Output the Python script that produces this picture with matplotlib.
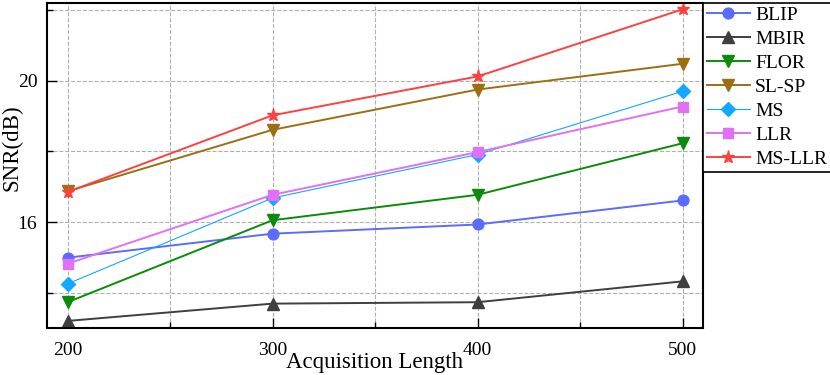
import numpy as np
from matplotlib import pyplot as plt
from matplotlib.ticker import MultipleLocator

plt.rcParams['font.family'] = ['Liberation Serif', 'DejaVu Serif']
plt.rcParams['mathtext.fontset'] = 'stix'

# acquisition lengths
lengths = [200, 300, 400, 500]

# SNR (dB) for each method
blip = [14.99, 15.67, 15.93, 16.61]
mbir = [13.20, 13.69, 13.73, 14.32]
flor = [13.73, 16.05, 16.77, 18.23]
slsp = [16.87, 18.61, 19.75, 20.48]
ms = [14.25, 16.68, 17.91, 19.70]
llr = [14.82, 16.77, 17.98, 19.27]
msllr = [16.85, 19.02, 20.12, 22.02]

names = ['BLIP', 'MBIR', 'FLOR', 'SL-SP', 'MS', 'LLR', 'MS-LLR']
series = [blip, mbir, flor, slsp, ms, llr, msllr]
colors = ['#5b6bff', '#3f3f3f', '#0a8c0a', '#9a7012', '#12a8ff', '#e070f4', '#ff4040']
markers = ['o', '^', 'v', 'v', 'D', 's', '*']
lws = [1.4, 1.4, 1.4, 1.4, 0.8, 1.4, 1.4]
msizes = [7.8, 8, 8, 8, 7, 7, 9.5]

fig = plt.figure(figsize=(8.3, 3.75), dpi=100)
ax = fig.add_axes([47 / 830, 47 / 375, 656 / 830, 325 / 375])

for name, y, c, m, lw, ms_ in zip(names, series, colors, markers, lws, msizes):
    ax.plot(lengths, y, color=c, marker=m, lw=lw, markersize=ms_, label=name)

ax.set_xlim(190, 510)
ax.set_ylim(13, 22.2)
ax.xaxis.set_major_locator(MultipleLocator(100))
ax.xaxis.set_minor_locator(MultipleLocator(50))
ax.yaxis.set_major_locator(MultipleLocator(4))
ax.yaxis.set_minor_locator(MultipleLocator(2))
ax.tick_params(which='both', direction='in', labelsize=14, top=False, right=False)
ax.tick_params(which='major', length=7, width=1)
ax.tick_params(which='minor', length=4, width=1)
ax.tick_params(axis='x', pad=10)
ax.tick_params(axis='y', pad=7)
ax.grid(True, which='both', ls='--', color='#b0b0b0', lw=0.8)
for sp in ax.spines.values():
    sp.set_linewidth(1.5)

ax.set_xlabel('Acquisition Length', fontsize=16.5, labelpad=-5)
ax.set_ylabel('SNR(dB)', fontsize=16.5)
ax.yaxis.set_label_coords(-0.038, 0.555)

leg = ax.legend(loc='upper left', bbox_to_anchor=(1, 1), borderaxespad=0,
                fancybox=False, edgecolor='black', fontsize=14, handlelength=2.25,
                labelspacing=0.33, borderpad=0.18, handletextpad=0.25, framealpha=1)
leg.get_frame().set_linewidth(1.2)

plt.savefig('out.png', dpi=100)
